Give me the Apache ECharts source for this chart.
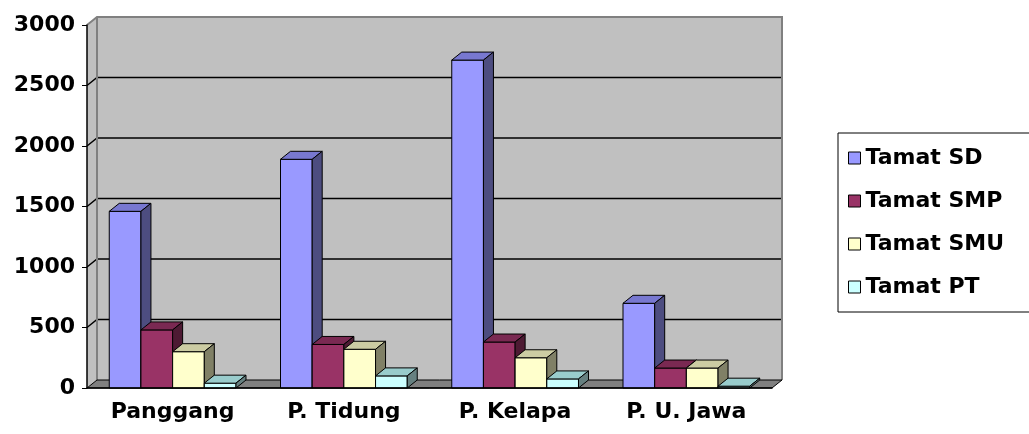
<!DOCTYPE html>
<html>
<head>
<meta charset="utf-8">
<script src="https://cdn.jsdelivr.net/npm/echarts@6/dist/echarts.min.js"></script>
<style>
  html, body { margin: 0; padding: 0; background: #fff; }
  #chart { width: 1029px; height: 434px; }
</style>
</head>
<body>
<div id="chart"></div>
<script>
// data
var categories = ["Panggang", "P. Tidung", "P. Kelapa", "P. U. Jawa"];
var tamatSD  = [1460, 1890, 2710, 700];
var tamatSMP = [480, 360, 380, 165];
var tamatSMU = [300, 320, 250, 165];
var tamatPT  = [40, 100, 75, 15];
var yTicks = [0, 500, 1000, 1500, 2000, 2500, 3000];

var FONT = "DejaVu Sans";
var DX = 10, DY = 8;   // depth of the fake 3d box

// front, top, side colours for each series
var looks = [
    { name: "Tamat SD",  front: "#9999ff", top: "#7878d0", side: "#4d4d80" },
    { name: "Tamat SMP", front: "#993366", top: "#7a2952", side: "#4d1a33" },
    { name: "Tamat SMU", front: "#ffffcc", top: "#cccca3", side: "#808066" },
    { name: "Tamat PT",  front: "#ccffff", top: "#99cccc", side: "#668080" }
];
var values = [tamatSD, tamatSMP, tamatSMU, tamatPT];

function poly(points, fill) {
    return { type: "polygon", shape: { points: points },
             style: { fill: fill, stroke: "#000", lineWidth: 1 } };
}

function barRenderer(idx) {
    var look = looks[idx];
    return function(params, api) {
        var cat = api.value(0);
        var top = api.coord([cat, api.value(1)]);
        var base = api.coord([cat, 0]);
        var w = api.size([1, 0])[0] * 0.185;
        var x = top[0] - 2 * w + idx * w;
        var yt = top[1], yb = base[1];
        return {
            type: "group",
            children: [
                poly([[x, yb], [x, yt], [x + w, yt], [x + w, yb]], look.front),
                poly([[x, yt], [x + DX, yt - DY], [x + w + DX, yt - DY], [x + w, yt]], look.top),
                poly([[x + w, yt], [x + w + DX, yt - DY], [x + w + DX, yb - DY], [x + w, yb]], look.side)
            ]
        };
    };
}

// walls, floor and back gridlines
function frameRenderer(params, api) {
    var cs = params.coordSys;
    var x = cs.x, y = cs.y, w = cs.width, h = cs.height;
    var kids = [];
    kids.push({ type: "rect", shape: { x: x + DX, y: y - DY, width: w, height: h },
                style: { fill: "#c0c0c0" } });
    kids.push({ type: "polygon", shape: { points: [[x, y], [x + DX, y - DY], [x + DX, y + h - DY], [x, y + h]] },
                style: { fill: "#c0c0c0" } });
    yTicks.forEach(function(v) {
        if (v <= 0 || v >= 3000) return;
        var yy = api.coord([0, v])[1];
        kids.push({ type: "polyline", shape: { points: [[x, yy], [x + DX, yy - DY], [x + w + DX, yy - DY]] },
                    style: { stroke: "#000", lineWidth: 1.5, fill: null } });
    });
    kids.push({ type: "polyline", shape: { points: [[x + DX, y + h - DY], [x + DX, y - DY]] },
                style: { stroke: "#808080", lineWidth: 2, fill: null } });
    kids.push({ type: "polyline", shape: { points: [[x, y], [x + DX, y - DY], [x + w + DX, y - DY], [x + w + DX, y + h - DY]] },
                style: { stroke: "#808080", lineWidth: 2, fill: null } });
    kids.push({ type: "polygon", shape: { points: [[x, y + h], [x + DX, y + h - DY], [x + w + DX, y + h - DY], [x + w, y + h]] },
                style: { fill: "#808080", stroke: "#000", lineWidth: 1 } });
    return { type: "group", children: kids };
}

var series = [{
    type: "custom",
    name: "frame",
    z: 1,
    silent: true,
    renderItem: frameRenderer,
    data: [[0, 0]]
}];
looks.forEach(function(look, i) {
    series.push({
        type: "custom",
        name: look.name,
        z: 2,
        itemStyle: { color: look.front, borderColor: "#000", borderWidth: 1 },
        renderItem: barRenderer(i),
        encode: { x: 0, y: 1 },
        data: values[i].map(function(v, j) { return [j, v]; })
    });
});

var chart = echarts.init(document.getElementById("chart"));
chart.setOption({
    animation: false,
    grid: { left: 87, top: 25, width: 685, height: 363, outerBoundsMode: "none" },
    xAxis: {
        type: "category",
        data: categories,
        z: 5,
        axisLine: { lineStyle: { color: "#000", width: 1.5 } },
        axisTick: { length: 7, lineStyle: { color: "#000" } },
        axisLabel: { color: "#000", fontFamily: FONT, fontWeight: "bold", fontSize: 22, margin: 13 }
    },
    yAxis: {
        type: "value",
        min: 0, max: 3000, interval: 500,
        z: 5,
        axisLine: { show: true, lineStyle: { color: "#000", width: 1.5 } },
        axisTick: { show: true, length: 5, lineStyle: { color: "#000" } },
        splitLine: { show: false },
        axisLabel: { color: "#000", fontFamily: FONT, fontWeight: "bold", fontSize: 22, margin: 12,
                     formatter: function(v) { return String(v); } }
    },
    legend: {
        data: looks.map(function(l) { return l.name; }),
        orient: "vertical",
        left: 838, top: 133,
        icon: "rect",
        itemWidth: 12, itemHeight: 12,
        itemGap: 21,
        padding: [14, 40, 14, 10],
        borderColor: "#000", borderWidth: 1,
        itemStyle: { borderColor: "#000", borderWidth: 1 },
        textStyle: { color: "#000", fontFamily: FONT, fontWeight: "bold", fontSize: 22 }
    },
    series: series
});
</script>
</body>
</html>
